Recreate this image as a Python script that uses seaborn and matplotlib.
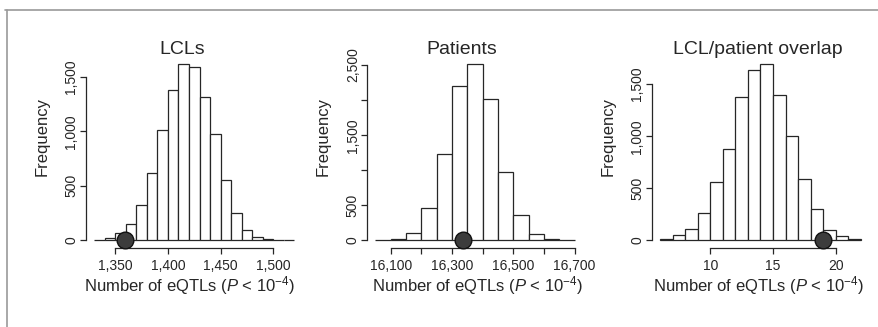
import numpy as np
import pandas as pd
import matplotlib
matplotlib.use("Agg")
import matplotlib.pyplot as plt
from matplotlib.lines import Line2D
from matplotlib.ticker import FixedLocator, FixedFormatter
import seaborn as sns

# Permutation null distributions: counts per bin (10,000 permutations)
lcl_bin_starts = [1330, 1340, 1350, 1360, 1370, 1380, 1390, 1400, 1410, 1420,
                  1430, 1440, 1450, 1460, 1470, 1480, 1490, 1500, 1510]
lcl_counts = [4, 18, 66, 150, 325, 616, 1012, 1378, 1616, 1585,
              1317, 976, 555, 256, 98, 32, 9, 3, 1]
lcl_bin_width = 10
lcl_observed = 1359

pat_bin_starts = [16050, 16100, 16150, 16200, 16250, 16300, 16350, 16400,
                  16450, 16500, 16550, 16600, 16650]
pat_counts = [2, 24, 105, 462, 1238, 2195, 2514, 2010, 976, 357, 86, 14, 3]
pat_bin_width = 50
pat_observed = 16337

ovl_bin_starts = [6, 7, 8, 9, 10, 11, 12, 13, 14, 15, 16, 17, 18, 19, 20, 21]
ovl_counts = [10, 52, 110, 268, 562, 874, 1381, 1632, 1693, 1397, 1002, 585,
              298, 103, 39, 10]
ovl_bin_width = 1
ovl_observed = 19

titles = ["LCLs", "Patients", "LCL/patient overlap"]

lcl_xticks = [1350, 1400, 1450, 1500]
lcl_xlabels = ["1,350", "1,400", "1,450", "1,500"]
lcl_yticks = [0, 500, 1000, 1500]
lcl_ylabels = ["0", "500", "1,000", "1,500"]

pat_xticks = [16100, 16200, 16300, 16400, 16500, 16600, 16700]
pat_xlabels = ["16,100", "", "16,300", "", "16,500", "", "16,700"]
pat_yticks = [0, 500, 1000, 1500, 2000, 2500]
pat_ylabels = ["0", "500", "", "1,500", "", "2,500"]

ovl_xticks = [10, 15, 20]
ovl_xlabels = ["10", "15", "20"]
ovl_yticks = [0, 500, 1000, 1500]
ovl_ylabels = ["0", "500", "1,000", "1,500"]

sns.set_style("ticks")
plt.rcParams["font.family"] = ["Liberation Sans", "DejaVu Sans"]
plt.rcParams["mathtext.fontset"] = "custom"
plt.rcParams["mathtext.rm"] = "Liberation Sans"
plt.rcParams["mathtext.it"] = "Liberation Sans:italic"
plt.rcParams["mathtext.sf"] = "Liberation Sans"

INK = "#262626"
W, H = 879, 327
fig = plt.figure(figsize=(W / 100, H / 100), dpi=100)
fig.patch.set_facecolor("white")

# axes boxes in pixels: (left, right); shared top/bottom
boxes = [(86, 302.5), (367.5, 582.5), (652, 869)]
top_px, bot_px = 57, 247.5
title_x = [0.443, 0.438, 0.488]
xlabel_x = [0.48, 0.51, 0.49]

panels = [
    (lcl_bin_starts, lcl_counts, lcl_bin_width, lcl_observed,
     lcl_xticks, lcl_xlabels, lcl_yticks, lcl_ylabels),
    (pat_bin_starts, pat_counts, pat_bin_width, pat_observed,
     pat_xticks, pat_xlabels, pat_yticks, pat_ylabels),
    (ovl_bin_starts, ovl_counts, ovl_bin_width, ovl_observed,
     ovl_xticks, ovl_xlabels, ovl_yticks, ovl_ylabels),
]

for i, (starts, counts, bw, obs, xt, xl, yt, yl) in enumerate(panels):
    l, r = boxes[i]
    ax = fig.add_axes([l / W, (H - bot_px) / H, (r - l) / W, (bot_px - top_px) / H])
    starts = np.asarray(starts, dtype=float)
    edges = [float(e) for e in np.append(starts, starts[-1] + bw)]
    df = pd.DataFrame({"value": starts + bw / 2, "count": counts})
    sns.histplot(data=df, x="value", weights="count", bins=edges, ax=ax,
                 color="white", edgecolor=INK, linewidth=0.9, alpha=1)

    # observed value
    ax.plot([obs], [0], "o", ms=12, mfc="#3c3c3c", mec="#111111", mew=1.0,
            clip_on=False, zorder=5)

    lo, hi = edges[0], edges[-1]
    pad = 0.04 * (hi - lo)
    ax.set_xlim(lo - pad, hi + pad)
    m = max(counts)
    ax.set_ylim(-0.04 * m, 1.04 * m)

    for s in ["top", "right"]:
        ax.spines[s].set_visible(False)
    for s in ["left", "bottom"]:
        ax.spines[s].set_color(INK)
        ax.spines[s].set_linewidth(0.9)
    ax.spines["bottom"].set_bounds(xt[0], xt[-1])
    ax.spines["left"].set_bounds(yt[0], yt[-1])

    ax.xaxis.set_major_locator(FixedLocator(xt))
    ax.xaxis.set_major_formatter(FixedFormatter(xl))
    ax.yaxis.set_major_locator(FixedLocator(yt))
    ax.yaxis.set_major_formatter(FixedFormatter(yl))
    ax.tick_params(axis="both", colors=INK, labelcolor=INK, length=4,
                   width=0.9, labelsize=10)
    ax.tick_params(axis="x", pad=4)
    ax.tick_params(axis="y", pad=1.5)
    for t in ax.get_yticklabels():
        t.set_rotation(90)
        t.set_rotation_mode("anchor")
        t.set_ha("center")
        t.set_va("bottom")

    ax.set_title(titles[i], x=title_x[i], y=(bot_px - 49) / (bot_px - top_px),
                 pad=0, va="center", fontsize=14, color=INK)
    ax.set_ylabel("Frequency", fontsize=12, color=INK)
    ax.yaxis.label.set_va("center")
    ax.yaxis.set_label_coords(-44 / (r - l), (bot_px - 137) / (bot_px - top_px))
    ax.set_xlabel(r"Number of eQTLs ($P$ < 10$^{-4}$)", fontsize=12, color=INK)
    ax.xaxis.label.set_va("center")
    ax.xaxis.set_label_coords(xlabel_x[i], (bot_px - 285.5) / (bot_px - top_px))
    ax.grid(False)

# outer frame lines
frame_col = "#9a9a9a"
fig.add_artist(Line2D([5 / W, 1.0], [1 - 10 / H, 1 - 10 / H], color=frame_col,
                      lw=1.2, transform=fig.transFigure))
fig.add_artist(Line2D([7 / W, 7 / W], [0.0, 1 - 10 / H], color=frame_col,
                      lw=1.2, transform=fig.transFigure))

fig.savefig("out.png", dpi=100, facecolor="white")
